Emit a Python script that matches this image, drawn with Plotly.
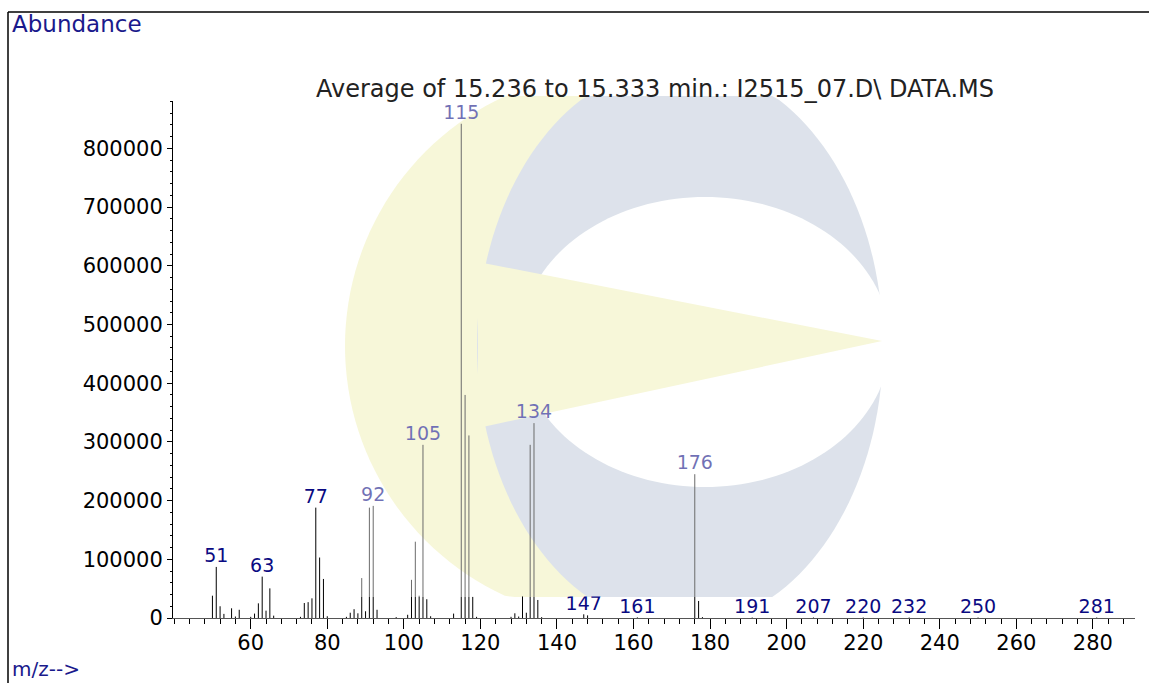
import numpy as np
import plotly.graph_objects as go

# ---------------- data ----------------
mz = [50, 51, 52, 53, 55, 56, 57, 60, 61, 62, 63, 64, 65, 66,
      73, 74, 75, 76, 77, 78, 79, 80, 85, 86, 87, 88, 89, 90, 91, 92, 93,
      98, 101, 102, 103, 104, 105, 106, 107, 113, 115, 116, 117, 118, 119,
      128, 129, 130, 131, 132, 133, 134, 135, 136, 147, 148, 161,
      176, 177, 178, 191, 207, 220, 232, 250, 281]
abundance = [38000, 87000, 20000, 7000, 16500, 2500, 14000, 2000, 7500, 25000, 70500, 12500, 50500, 4000,
             2000, 25500, 27000, 33500, 188000, 103000, 66500, 3000, 2000, 9000, 15000, 8000, 68000, 11500, 188000, 191000, 14000,
             1500, 5500, 65000, 130000, 38000, 295000, 32000, 3000, 7500, 842000, 380000, 311000, 36000, 2000,
             2000, 8000, 2500, 37500, 9000, 295000, 332000, 30700, 1500, 6300, 4500, 1000,
             245000, 29000, 1500, 800, 800, 800, 800, 800, 800]
label_mz = [51, 63, 77, 92, 105, 115, 134, 147, 161, 176, 191, 207, 220, 232, 250, 281]
x_ticks = [60, 80, 100, 120, 140, 160, 180, 200, 220, 240, 260, 280]
y_ticks = [0, 100000, 200000, 300000, 400000, 500000, 600000, 700000, 800000]
title_text = "Average of 15.236 to 15.333 min.: I2515_07.D\\ DATA.MS"

# ---------------- geometry helpers ----------------
W, H = 1149, 683
ML, MR, MT, MB = 173, 14, 101, 65
PW, PH = W - ML - MR, H - MT - MB


def pp(px, py):
    return (px - ML) / PW, (H - MB - py) / PH


def path_from(points):
    s = []
    for i, (px, py) in enumerate(points):
        x, y = pp(px, py)
        s.append(("M" if i == 0 else "L") + f"{x:.5f},{y:.5f}")
    return " ".join(s) + " Z"


Y_TOP, Y_BOT, X_RIGHT = 96, 597, 885


def ellipse(cx, cy, rx, ry, xmax=X_RIGHT, n=160):
    t = np.linspace(0, 2 * np.pi, n, endpoint=False)
    pts = []
    for a in t:
        x = min(cx + rx * np.cos(a), xmax)
        y = min(max(cy + ry * np.sin(a), Y_TOP), Y_BOT)
        pts.append((x, y))
    return pts


# ---------------- figure ----------------
fig = go.Figure()

lx, ly = [], []
for m, a in zip(mz, abundance):
    lx += [m, m, None]
    ly += [0, a, None]
fig.add_trace(go.Scatter(x=lx, y=ly, mode="lines", line=dict(color="black", width=1),
                         hoverinfo="skip"))

ab = dict(zip(mz, abundance))
fig.add_trace(go.Scatter(x=label_mz, y=[ab[m] for m in label_mz], mode="text",
                         text=[str(m) for m in label_mz], textposition="top center",
                         textfont=dict(family="DejaVu Sans", size=19, color="#0a0a82"),
                         cliponaxis=False, hoverinfo="skip"))

shapes = []
# watermark logo (drawn beneath the spectrum)
YEL = "rgb(241,241,190)"
BLU = "rgb(196,206,220)"
shapes.append(dict(type="path", xref="paper", yref="paper", layer="below",
                   path=path_from(ellipse(620, 346, 275, 275, xmax=850)), fillcolor=YEL, line=dict(width=0)))
shapes.append(dict(type="path", xref="paper", yref="paper", layer="below",
                   path=path_from(ellipse(680, 346, 203, 282)), fillcolor=BLU, line=dict(width=0)))
shapes.append(dict(type="path", xref="paper", yref="paper", layer="below",
                   path=path_from(ellipse(705, 342, 185, 145)), fillcolor="white", line=dict(width=0)))
shapes.append(dict(type="path", xref="paper", yref="paper", layer="below",
                   path=path_from([(478, 262), (882, 341), (478, 428)]), fillcolor=YEL, line=dict(width=0)))
# translucent wash over the watermark box
x0, y1 = pp(345, Y_TOP)
x1, y0 = pp(X_RIGHT, Y_BOT)
shapes.append(dict(type="rect", xref="paper", yref="paper", layer="above",
                   x0=x0, x1=x1, y0=y0, y1=y1, fillcolor="rgba(255,255,255,0.42)", line=dict(width=0)))
# outer frame lines
fx0, fy0 = pp(8, H + 5)
fx1, fy1 = pp(W + 5, 12)
shapes.append(dict(type="line", xref="paper", yref="paper", x0=fx0, x1=fx0, y0=fy0, y1=fy1,
                   line=dict(color="black", width=1.5)))
shapes.append(dict(type="line", xref="paper", yref="paper", x0=fx0, x1=fx1, y0=fy1, y1=fy1,
                   line=dict(color="black", width=1.5)))

ax, ay = pp(10, 24)
mx, my = pp(10, 669)
tx, ty = pp(655, 89)
annotations = [
    dict(text="Abundance", xref="paper", yref="paper", x=ax, y=ay, xanchor="left", yanchor="middle",
         showarrow=False, font=dict(family="DejaVu Sans", size=23, color="#1a1a8c")),
    dict(text="m/z-->", xref="paper", yref="paper", x=mx, y=my, xanchor="left", yanchor="middle",
         showarrow=False, font=dict(family="DejaVu Sans", size=20, color="#1a1a8c")),
    dict(text=title_text, xref="paper", yref="paper", x=tx, y=ty, xanchor="center", yanchor="middle",
         showarrow=False, font=dict(family="DejaVu Sans", size=24, color="#222222")),
]

fig.update_layout(
    width=W, height=H,
    margin=dict(l=ML, r=MR, t=MT, b=MB, pad=0),
    paper_bgcolor="white", plot_bgcolor="rgba(0,0,0,0)",
    showlegend=False,
    font=dict(family="DejaVu Sans", color="black"),
    shapes=shapes, annotations=annotations,
    xaxis=dict(range=[39.7, 291], tickmode="array", tickvals=x_ticks,
               ticktext=[str(v) for v in x_ticks],
               ticks="outside", ticklen=10, tickcolor="black", tickwidth=1,
               ticklabelstandoff=-4,
               showline=True, linecolor="#555555", linewidth=1,
               showgrid=False, zeroline=False,
               tickfont=dict(family="DejaVu Sans", size=21, color="black"),
               minor=dict(tickmode="linear", tick0=0, dtick=4, ticks="outside", ticklen=5,
                          tickcolor="black", showgrid=False)),
    yaxis=dict(range=[0, 880750], tickmode="array", tickvals=y_ticks,
               ticktext=[str(v) for v in y_ticks],
               ticks="outside", ticklen=5, tickcolor="black", tickwidth=1,
               showline=True, linecolor="black", linewidth=1,
               showgrid=False, zeroline=False,
               tickfont=dict(family="DejaVu Sans", size=21, color="black"),
               minor=dict(tickmode="linear", tick0=0, dtick=20000, ticks="outside", ticklen=2,
                          tickcolor="black", showgrid=False)),
)

fig.write_html("out.html", config={"displayModeBar": False},
               post_script="document.body.style.margin='0';document.body.style.padding='0';"
                           "document.documentElement.style.overflow='hidden';")
